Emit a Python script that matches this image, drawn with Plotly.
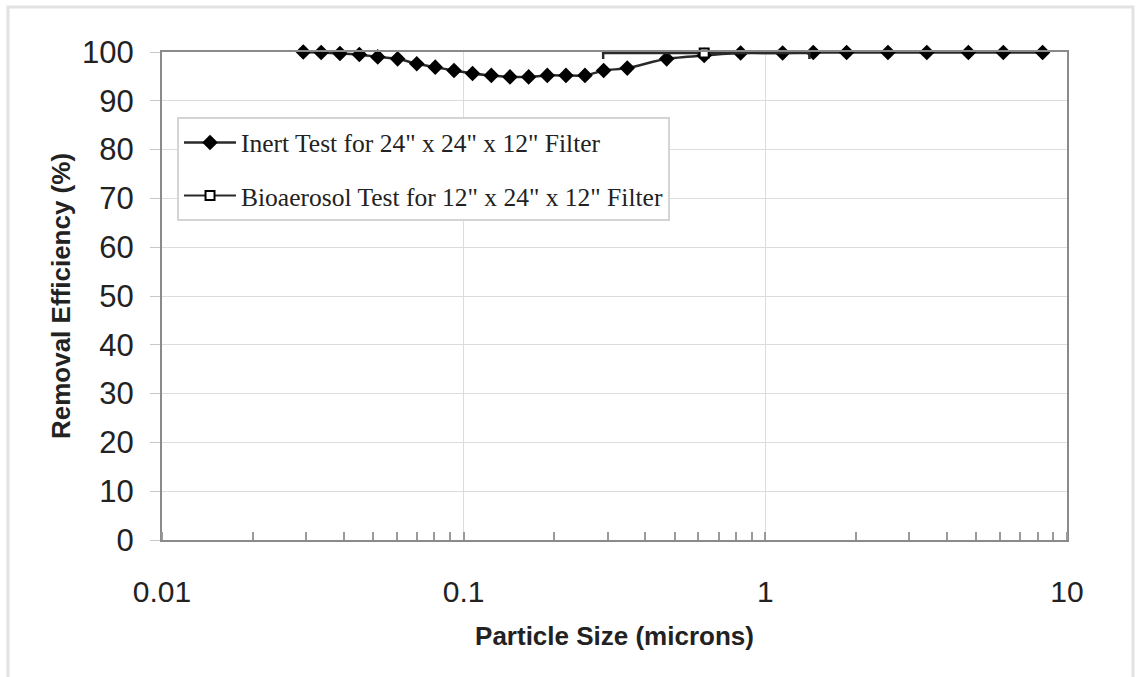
import plotly.graph_objects as go

# Inert test (24" x 24" x 12" filter)
inert_size = [0.0294, 0.0337, 0.0389, 0.0451, 0.0519, 0.0604, 0.0699, 0.0805, 0.0929,
              0.107, 0.1235, 0.1424, 0.1642, 0.1893, 0.2183, 0.2524, 0.2911, 0.3486,
              0.471, 0.627, 0.828, 1.141, 1.442, 1.86, 2.55, 3.43, 4.71, 6.15, 8.30]
inert_eff = [100.0, 99.9, 99.7, 99.5, 99.0, 98.6, 97.6, 96.9, 96.2,
             95.6, 95.2, 94.9, 94.9, 95.2, 95.2, 95.2, 96.2, 96.7,
             98.6, 99.3, 99.8, 99.8, 99.9, 99.9, 99.9, 99.9, 99.9, 99.9, 99.9]

# Bioaerosol test (12" x 24" x 12" filter)
bio_size = [0.627]
bio_eff = [99.8]
bio_err_plus = [0.773]
bio_err_minus = [0.337]

x_tickvals = [0.01, 0.1, 1, 10]
x_ticktext = ["0.01", "0.1", "1", "10"]
y_tickvals = [0, 10, 20, 30, 40, 50, 60, 70, 80, 90, 100]

fig = go.Figure()
fig.add_trace(go.Scatter(
    x=inert_size, y=inert_eff, mode="lines+markers",
    name='Inert Test for 24" x 24" x 12" Filter',
    line=dict(color="#2a2a2a", width=2.5, shape="spline", smoothing=0.7),
    marker=dict(symbol="diamond", size=12, color="black"),
    cliponaxis=False, legendgroup="a"))
fig.add_trace(go.Scatter(
    x=bio_size, y=bio_eff, mode="lines+markers",
    name='Bioaerosol Test for 12" x 24" x 12" Filter',
    line=dict(color="#2a2a2a", width=2),
    marker=dict(symbol="square", size=9, color="white",
                line=dict(color="black", width=2)),
    error_x=dict(type="data", symmetric=False, array=bio_err_plus,
                 arrayminus=bio_err_minus, color="#2a2a2a", thickness=2.5, width=6),
    cliponaxis=False, legendgroup="b"))

fig.update_layout(
    width=1136, height=677,
    margin=dict(l=162, r=69, t=52, b=137),
    paper_bgcolor="white", plot_bgcolor="white",
    showlegend=True,
    legend=dict(x=0.0166, y=0.866, xanchor="left", yanchor="top",
                bgcolor="white", bordercolor="#d4d4d4", borderwidth=2,
                font=dict(family="Liberation Serif", size=25.5, color="#222222"),
                tracegroupgap=17, itemwidth=52),
    shapes=[dict(type="rect", xref="paper", yref="paper",
                 x0=-0.1702, x1=1.0729, y0=-0.35, y1=1.0922,
                 line=dict(color="#e2e2e2", width=3), layer="below")],
)
fig.update_xaxes(
    type="log", range=[-2, 1], tickvals=x_tickvals, ticktext=x_ticktext,
    showgrid=True, gridcolor="#dcdcdc", gridwidth=1,
    showline=True, linecolor="#8a8a8a", linewidth=2, mirror=True,
    ticks="", ticklabelstandoff=24,
    tickfont=dict(family="Liberation Sans", size=30, color="#222222"),
    minor=dict(dtick="D1", ticks="inside", ticklen=8, tickcolor="#9a9a9a",
               tickwidth=1.5, showgrid=False),
    title=dict(text="<b>Particle Size (microns)</b>", standoff=20,
               font=dict(family="Liberation Sans", size=26, color="#222222")),
    zeroline=False)
fig.update_yaxes(
    range=[0, 100], tickvals=y_tickvals,
    showgrid=True, gridcolor="#dcdcdc", gridwidth=1,
    showline=True, linecolor="#8a8a8a", linewidth=2, mirror=True,
    ticks="outside", ticklen=10, tickcolor="#c8c8c8", tickwidth=1,
    ticklabelstandoff=10,
    tickfont=dict(family="Liberation Sans", size=31, color="#222222"),
    title=dict(text="<b>Removal Efficiency (%)</b>", standoff=4,
               font=dict(family="Liberation Sans", size=26, color="#222222")),
    zeroline=False)

fig.write_html("out.html",
               config={"displayModeBar": False},
               post_script="document.body.style.margin='0';document.body.style.overflow='hidden';")
